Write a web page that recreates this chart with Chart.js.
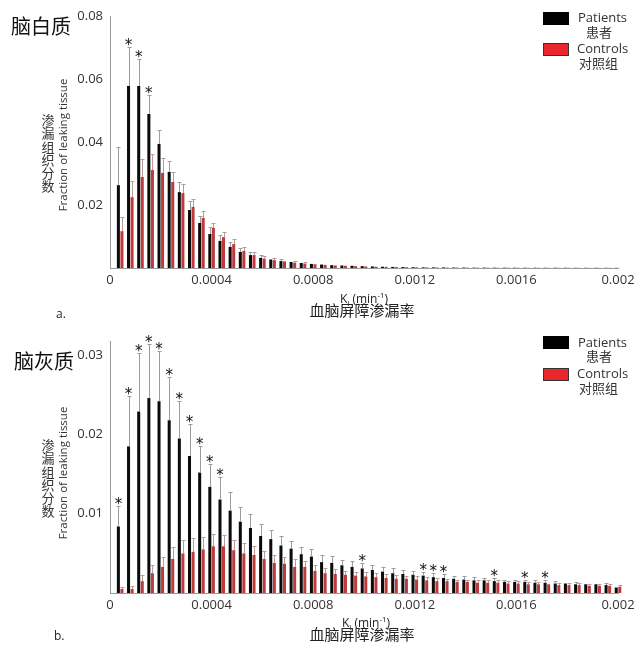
<!DOCTYPE html>
<html>
<head>
<meta charset="utf-8">
<script src="https://cdn.jsdelivr.net/npm/chart.js@4/dist/chart.umd.min.js"></script>
<style>
  body { margin:0; background:#fff; font-family:"Open Sans", sans-serif; color:#222; }
  #page { position:relative; width:640px; height:645px; overflow:hidden; }
  canvas { position:absolute; left:0; }
  .t { position:absolute; white-space:nowrap; line-height:1; }
  .cn { font-family:"Noto Sans CJK SC", sans-serif; }
  .panel-title { font-size:20px; color:#111; }
  .ycn { position:absolute; width:14px; font-size:13px; line-height:13.3px; text-align:center; font-family:"Noto Sans CJK SC", sans-serif; color:#333; }
  .yen { position:absolute; font-size:11.5px; color:#333; transform:translate(-50%,-50%) rotate(-90deg); white-space:nowrap; }
  .box { position:absolute; width:26px; height:13px; box-sizing:border-box; }
  .leg { font-size:13px; color:#333; }
  .xt { position:absolute; transform:translateX(-50%); white-space:nowrap; text-align:center; color:#222; }
</style>
</head>
<body>
<div id="page">
  <canvas id="chart-wm" width="640" height="322" style="top:0"></canvas>
  <canvas id="chart-gm" width="640" height="320" style="top:325px"></canvas>

  <div class="t cn panel-title" style="left:11px;top:16px">脑白质</div>
  <div class="t cn panel-title" style="left:14px;top:351px">脑灰质</div>
  <div class="t" style="left:56px;top:308px;font-size:12px">a.</div>
  <div class="t" style="left:54px;top:630px;font-size:12px">b.</div>

  <div class="ycn" style="left:41px;top:113px">渗<br>漏<br>组<br>织<br>分<br>数</div>
  <div class="yen" style="left:62px;top:145px">Fraction of leaking tissue</div>
  <div class="ycn" style="left:41px;top:438px">渗<br>漏<br>组<br>织<br>分<br>数</div>
  <div class="yen" style="left:62px;top:473px">Fraction of leaking tissue</div>

  <div class="xt" style="left:364px;top:289px;font-size:12px">K<sub style="font-size:8px">i</sub> (min<sup style="font-size:8px">-1</sup>)</div>
  <div class="xt cn" style="left:362px;top:302px;font-size:15px;line-height:1">血脑屏障渗漏率</div>
  <div class="xt" style="left:366px;top:613px;font-size:12px">K<sub style="font-size:8px">i</sub> (min<sup style="font-size:8px">-1</sup>)</div>
  <div class="xt cn" style="left:362px;top:626px;font-size:15px;line-height:1">血脑屏障渗漏率</div>

  <div class="box" style="left:543px;top:12px;background:#000"></div>
  <div class="t leg" style="left:578px;top:11px">Patients</div>
  <div class="t leg cn" style="left:586px;top:25px">患者</div>
  <div class="box" style="left:543px;top:43px;background:#e8262c;border:1px solid #333"></div>
  <div class="t leg" style="left:577px;top:42px">Controls</div>
  <div class="t leg cn" style="left:579px;top:56px">对照组</div>

  <div class="box" style="left:543px;top:336px;background:#000"></div>
  <div class="t leg" style="left:578px;top:336px">Patients</div>
  <div class="t leg cn" style="left:586px;top:349px">患者</div>
  <div class="box" style="left:543px;top:368px;background:#e8262c;border:1px solid #333"></div>
  <div class="t leg" style="left:577px;top:367px">Controls</div>
  <div class="t leg cn" style="left:579px;top:381px">对照组</div>
</div>
<script>
// Ki bin centres (min^-1)
const kiBins = [0.00004, 0.00008, 0.00012, 0.00016, 0.0002, 0.00024, 0.00028, 0.00032, 0.00036, 0.0004,
  0.00044, 0.00048, 0.00052, 0.00056, 0.0006, 0.00064, 0.00068, 0.00072, 0.00076, 0.0008,
  0.00084, 0.00088, 0.00092, 0.00096, 0.001, 0.00104, 0.00108, 0.00112, 0.00116, 0.0012,
  0.00124, 0.00128, 0.00132, 0.00136, 0.0014, 0.00144, 0.00148, 0.00152, 0.00156, 0.0016,
  0.00164, 0.00168, 0.00172, 0.00176, 0.0018, 0.00184, 0.00188, 0.00192, 0.00196, 0.002];
const xTicks = [0, 0.0004, 0.0008, 0.0012, 0.0016, 0.002];
const wmYTicks = [0, 0.02, 0.04, 0.06, 0.08];
const gmYTicks = [0, 0.01, 0.02, 0.03];

// white matter (脑白质)
const wmPatients = [0.0263, 0.0578, 0.0578, 0.0489, 0.0394, 0.0305, 0.0241, 0.0184, 0.0143, 0.0108,
  0.0086, 0.0067, 0.0051, 0.0041, 0.0032, 0.0027, 0.0022, 0.0019, 0.0016, 0.0013,
  0.0011, 0.0009, 0.0008, 0.0007, 0.0006, 0.0005, 0.0004, 0.00035, 0.0003, 0.00025,
  0.0002, 0.0002, 0.00018, 0.00015, 0.00015, 0.00012, 0.00012, 0.0001, 0.0001, 0.0001,
  0.00009, 0.00009, 0.00008, 0.00008, 0.00008, 0.00007, 0.00007, 0.00007, 0.00006, 0.00006];
const wmPatientsUpper = [0.0384, 0.0702, 0.0663, 0.0549, 0.0438, 0.034, 0.0273, 0.0213, 0.0165, 0.013,
  0.0105, 0.0083, 0.0063, 0.005, 0.004, 0.0033, 0.0027, 0.0023, 0.002, 0.0016,
  0.0014, 0.0012, 0.001, 0.0009, 0.0008, 0.0007, 0.0006, 0.0005, 0.0004, 0.00035,
  0.0003, 0.0003, 0.00025, 0.0002, 0.0002, 0.00017, 0.00017, 0.00015, 0.00014, 0.00014,
  0.00013, 0.00013, 0.00012, 0.00012, 0.00011, 0.0001, 0.0001, 0.0001, 0.00009, 0.00009];
const wmControls = [0.0117, 0.0225, 0.0289, 0.0311, 0.0302, 0.0273, 0.0238, 0.0194, 0.0159, 0.0127,
  0.0098, 0.0076, 0.0054, 0.0041, 0.003, 0.0025, 0.0021, 0.0017, 0.0014, 0.0012,
  0.001, 0.0008, 0.0007, 0.0006, 0.0005, 0.0004, 0.00035, 0.0003, 0.00025, 0.0002,
  0.00018, 0.00015, 0.00013, 0.00012, 0.0001, 0.0001, 0.00009, 0.00008, 0.00008, 0.00007,
  0.00007, 0.00006, 0.00006, 0.00006, 0.00005, 0.00005, 0.00005, 0.00004, 0.00004, 0.00004];
const wmControlsUpper = [0.0162, 0.0276, 0.0346, 0.0362, 0.0349, 0.0305, 0.0267, 0.0219, 0.018, 0.0143,
  0.0114, 0.0092, 0.0067, 0.005, 0.0037, 0.0031, 0.0026, 0.0021, 0.0018, 0.0015,
  0.0013, 0.001, 0.0009, 0.0008, 0.0007, 0.0005, 0.00045, 0.0004, 0.00033, 0.00027,
  0.00024, 0.0002, 0.00018, 0.00016, 0.00014, 0.00013, 0.00012, 0.00011, 0.00011, 0.0001,
  0.0001, 0.00009, 0.00009, 0.00008, 0.00008, 0.00007, 0.00007, 0.00006, 0.00006, 0.00006];
const wmSignificant = [1, 2, 3];   // bin indexes with *

// grey matter (脑灰质)
const gmPatients = [0.0084, 0.0185, 0.0229, 0.0246, 0.0242, 0.0218, 0.0195, 0.0173, 0.0152, 0.0134,
  0.0118, 0.0104, 0.009, 0.0082, 0.0072, 0.0068, 0.006, 0.0056, 0.0049, 0.0046,
  0.0039, 0.0038, 0.0035, 0.0033, 0.0031, 0.0029, 0.0027, 0.0025, 0.0024, 0.0023,
  0.0022, 0.002, 0.0019, 0.0018, 0.0017, 0.0016, 0.0016, 0.0015, 0.0014, 0.0014,
  0.0014, 0.0013, 0.0013, 0.0012, 0.0012, 0.0011, 0.0011, 0.0011, 0.001, 0.0007];
const gmPatientsUpper = [0.011, 0.0248, 0.0303, 0.0314, 0.0306, 0.0272, 0.0242, 0.0213, 0.0185, 0.0163,
  0.0146, 0.0127, 0.0109, 0.01, 0.0087, 0.008, 0.0072, 0.0066, 0.0058, 0.0055,
  0.0048, 0.0047, 0.0042, 0.004, 0.0038, 0.0035, 0.0033, 0.0031, 0.0029, 0.0028,
  0.0027, 0.0025, 0.0024, 0.0022, 0.0021, 0.002, 0.0019, 0.0019, 0.0017, 0.0017,
  0.0017, 0.0016, 0.0016, 0.0015, 0.0014, 0.0014, 0.0013, 0.0013, 0.0012, 0.0009];
const gmControls = [0.0005, 0.0005, 0.0015, 0.0025, 0.0033, 0.0043, 0.005, 0.0052, 0.0055, 0.0059,
  0.0059, 0.0054, 0.005, 0.0048, 0.0043, 0.0038, 0.0037, 0.0033, 0.0033, 0.0028,
  0.0025, 0.0024, 0.0023, 0.0022, 0.0021, 0.002, 0.0019, 0.0018, 0.0018, 0.0017,
  0.0016, 0.0015, 0.0015, 0.0014, 0.0014, 0.0013, 0.0013, 0.0013, 0.0012, 0.0012,
  0.0011, 0.0011, 0.0011, 0.001, 0.001, 0.001, 0.0009, 0.0009, 0.0009, 0.0008];
const gmControlsUpper = [0.0008, 0.0009, 0.0023, 0.0035, 0.0046, 0.0058, 0.0067, 0.0069, 0.0071, 0.0074,
  0.0073, 0.0067, 0.0063, 0.0059, 0.0053, 0.0048, 0.0045, 0.0043, 0.004, 0.0035,
  0.0032, 0.003, 0.0028, 0.0027, 0.0026, 0.0025, 0.0024, 0.0023, 0.0022, 0.0021,
  0.002, 0.0019, 0.0018, 0.0017, 0.0017, 0.0016, 0.0016, 0.0016, 0.0015, 0.0015,
  0.0014, 0.0014, 0.0013, 0.0012, 0.0012, 0.0012, 0.0011, 0.0011, 0.0011, 0.001];
const gmSignificant = [0, 1, 2, 3, 4, 5, 6, 7, 8, 9, 10, 24, 30, 31, 32, 37, 40, 42];

Chart.defaults.font.family = '"Open Sans", sans-serif';
Chart.defaults.color = '#333';

const errorBars = {
  id: 'errorBars',
  afterDatasetsDraw(chart, args, opts) {
    const { ctx } = chart;
    const y = chart.scales.y;
    chart.data.datasets.forEach((ds, i) => {
      const meta = chart.getDatasetMeta(i);
      ctx.save();
      ctx.strokeStyle = ds.errColor;
      ctx.lineWidth = 1;
      meta.data.forEach((bar, j) => {
        const top = Math.round(y.getPixelForValue(ds.upper[j])) + 0.5;
        const x = Math.round(bar.x) + 0.5;
        if (bar.y - top < 1) return;
        ctx.beginPath();
        ctx.moveTo(x, bar.y); ctx.lineTo(x, top);
        ctx.moveTo(x - 2, top); ctx.lineTo(x + 2, top);
        ctx.stroke();
      });
      ctx.restore();
    });
    const pat = chart.data.datasets[0];
    const meta0 = chart.getDatasetMeta(0);
    ctx.save();
    ctx.fillStyle = '#111';
    ctx.font = '15px "DejaVu Sans", sans-serif';
    ctx.textAlign = 'center';
    ctx.textBaseline = 'alphabetic';
    (opts.sig || []).forEach(j => {
      const top = y.getPixelForValue(pat.upper[j]);
      ctx.fillText('*', meta0.data[j].x, top + 3);
    });
    ctx.restore();
  }
};

function makeChart(id, patients, patientsUp, controls, controlsUp, yTicks, yMax, xHeight, sig) {
  return new Chart(document.getElementById(id), {
    type: 'bar',
    data: {
      datasets: [
        { label: 'Patients', data: kiBins.map((k, i) => ({ x: k, y: patients[i] })), upper: patientsUp,
          backgroundColor: '#0b0b0b', errColor: '#9c9c9c', clip: false },
        { label: 'Controls', data: kiBins.map((k, i) => ({ x: k, y: controls[i] })), upper: controlsUp,
          backgroundColor: '#bd3a3c', errColor: '#b99a9a', clip: false }
      ]
    },
    options: {
      responsive: false,
      animation: false,
      barPercentage: 0.85,
      categoryPercentage: 0.7,
      layout: { padding: { top: 16, right: 22, left: 0, bottom: 0 } },
      plugins: { legend: { display: false }, tooltip: { enabled: false }, errorBars: { sig } },
      scales: {
        x: {
          type: 'linear', min: 0, max: 0.002, offset: false,
          afterBuildTicks: s => { s.ticks = xTicks.map(v => ({ value: v })); },
          afterFit: s => { s.height = xHeight; },
          grid: { display: false, drawTicks: false },
          border: { color: '#9a9a9a' },
          ticks: { color: '#333', font: { size: 13 }, padding: 4, maxRotation: 0, callback: v => String(v) }
        },
        y: {
          min: 0, max: yMax,
          afterBuildTicks: s => { s.ticks = yTicks.map(v => ({ value: v })); },
          afterFit: s => { s.width = 110; },
          grid: { display: false, drawTicks: false },
          border: { color: '#9a9a9a' },
          ticks: { color: '#333', font: { size: 13 }, padding: 7, callback: v => v === 0 ? '' : String(v) }
        }
      }
    },
    plugins: [errorBars]
  });
}

makeChart('chart-wm', wmPatients, wmPatientsUpper, wmControls, wmControlsUpper, wmYTicks, 0.08, 54, wmSignificant);
makeChart('chart-gm', gmPatients, gmPatientsUpper, gmControls, gmControlsUpper, gmYTicks, 0.0318, 52, gmSignificant);
</script>
</body>
</html>
